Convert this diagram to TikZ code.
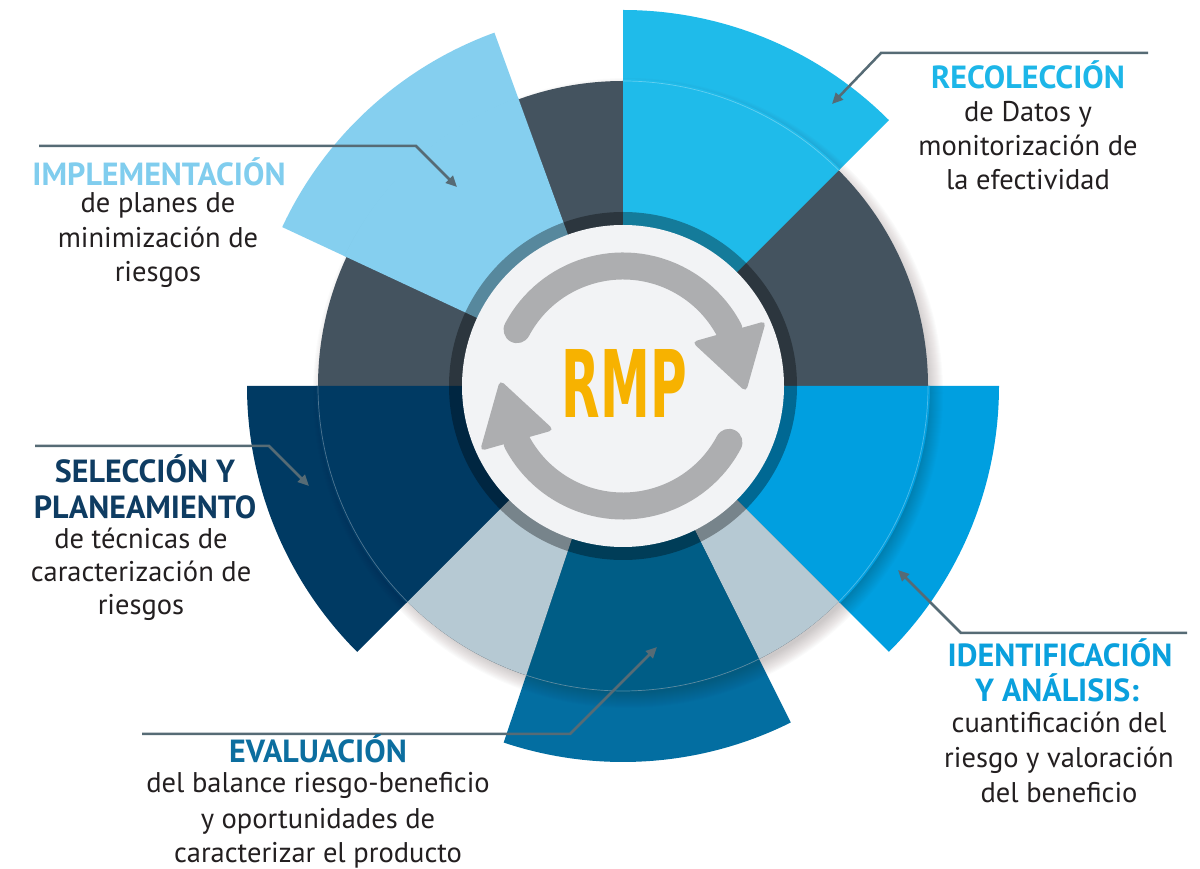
\documentclass[tikz,border=0pt]{standalone}
\usepackage{fontspec}
\usepackage{graphicx}
\setmainfont{PT Sans}
\newfontfamily\rmpfont{DejaVu Sans Condensed}
\usetikzlibrary{arrows.meta}

\definecolor{cyanA}{HTML}{1FBBEA}
\definecolor{blueB}{HTML}{009FE0}
\definecolor{bottomOut}{HTML}{036EA1}
\definecolor{bottomIn}{HTML}{005D86}
\definecolor{navyC}{HTML}{003A63}
\definecolor{skyL}{HTML}{85CFEF}
\definecolor{diskGray}{HTML}{44535F}
\definecolor{paleBlue}{HTML}{B6C9D3}
\definecolor{hub}{HTML}{F2F3F5}
\definecolor{arrowGray}{HTML}{ADAEB0}
\definecolor{rmpOrange}{HTML}{F7B200}
\definecolor{leader}{HTML}{566B75}
\definecolor{bodyText}{HTML}{231F20}
\definecolor{tRec}{HTML}{1DB6E8}
\definecolor{tImp}{HTML}{80CDEE}
\definecolor{tSel}{HTML}{0E3C62}
\definecolor{tEva}{HTML}{0C6E9F}
\definecolor{tIde}{HTML}{0AA0DD}
\definecolor{shadowC}{HTML}{3A2A2A}

% wedge: start angle, end angle, radius, fill colour
\newcommand\wedgeshape[4]{\fill[#4] (0,0) -- (#1:#3) arc[start angle=#1, end angle=#2, radius=#3] -- cycle;}

\tikzset{
  labtitle/.style={font=\fontsize{32}{32}\selectfont\bfseries, anchor=base, inner sep=0pt},
  labbody/.style={font=\fontsize{28.5}{28.5}\selectfont, text=bodyText, anchor=base, inner sep=0pt},
  leaderline/.style={draw=leader, line width=2.5pt, -{Triangle[length=11pt,width=10pt]}},
  rimline/.style={white, opacity=0.3, line width=0.7pt}
}

\begin{document}
\begin{tikzpicture}[x=1pt,y=1pt]
\useasboundingbox (0,0) rectangle (1200,868);
\fill[white] (0,0) rectangle (1200,868);

\begin{scope}[shift={(623,482)}]
  % outer blades
  \wedgeshape{45}{90}{376}{cyanA}
  \wedgeshape{-45}{0}{376}{blueB}
  \wedgeshape{-108.5}{-63.5}{376}{bottomOut}
  \wedgeshape{180}{225}{376}{navyC}
  \wedgeshape{110}{155}{376}{skyL}

  % soft shadow of the disk, falling down and to the right
  \foreach \k [evaluate=\k as \rr using 299+\k] in {1,...,16}
    \fill[shadowC, opacity=0.016] (5,-7) circle[radius=\rr];

  % main disk and its sectors (same-coloured blades overlap the rim slightly)
  \fill[diskGray] (0,0) circle[radius=305];
  \wedgeshape{45}{90}{307}{cyanA}
  \wedgeshape{-45}{0}{307}{blueB}
  \wedgeshape{-63.5}{-45}{305}{paleBlue}
  \wedgeshape{-108.5}{-63.5}{305}{bottomIn}
  \wedgeshape{225}{251.5}{305}{paleBlue}
  \wedgeshape{180}{225}{307}{navyC}
  \wedgeshape{110}{155}{307}{skyL}

  % thin rims on the blades
  \draw[rimline] (45:305) arc[start angle=45, end angle=90, radius=305];
  \draw[rimline] (-45:305) arc[start angle=-45, end angle=0, radius=305];
  \draw[rimline] (-108.5:305) arc[start angle=-108.5, end angle=-63.5, radius=305];
  \draw[rimline] (180:305) arc[start angle=180, end angle=225, radius=305];

  % dark ring and hub
  \fill[black, opacity=0.34] (0,0) circle[radius=174];
  \fill[hub] (0,0) circle[radius=161];

  % cycle arrows
  \draw[arrowGray, line width=27pt, line cap=round]
    (152:120) arc[start angle=152, end angle=28, radius=120];
  \fill[arrowGray, rounded corners=5pt] (69,44) -- (143,65) -- (123,-6) -- cycle;
  \draw[arrowGray, line width=27pt, line cap=round]
    (332:120) arc[start angle=332, end angle=208, radius=120];
  \fill[arrowGray, rounded corners=5pt] (-69,-44) -- (-143,-65) -- (-123,6) -- cycle;
\end{scope}

\node[inner sep=0pt, text=rmpOrange] (rmp) at (624.5,484)
  {\resizebox{125pt}{68pt}{\rmpfont\bfseries RMP}};

% leader lines
\coordinate (recA) at (1148,815); \coordinate (recB) at (881,815); \coordinate (recT) at (832,764);
\coordinate (impA) at (39,722);   \coordinate (impB) at (416,722); \coordinate (impT) at (457,681);
\coordinate (selA) at (35,422);   \coordinate (selB) at (269,422); \coordinate (selT) at (309,382);
\coordinate (evaA) at (142,134);  \coordinate (evaB) at (570,134); \coordinate (evaT) at (657,221);
\coordinate (ideA) at (1187,235); \coordinate (ideB) at (961,235); \coordinate (ideT) at (898,298);
\draw[leaderline] (recA) -- (recB) -- (recT);
\draw[leaderline] (impA) -- (impB) -- (impT);
\draw[leaderline] (selA) -- (selB) -- (selT);
\draw[leaderline] (evaA) -- (evaB) -- (evaT);
\draw[leaderline] (ideA) -- (ideB) -- (ideT);

% labels
\node[labtitle, text=tRec] (rec0) at (1028,779) {RECOLECCIÓN};
\node[labbody] (rec1) at (1028,746) {de Datos y};
\node[labbody] (rec2) at (1028,712) {monitorización de};
\node[labbody] (rec3) at (1028,678) {la efectividad};

\node[labtitle, text=tImp] (imp0) at (159,682) {IMPLEMENTACIÓN};
\node[labbody] (imp1) at (158,655) {de planes de};
\node[labbody] (imp2) at (158,620) {minimización de};
\node[labbody] (imp3) at (158,586) {riesgos};

\node[labtitle, text=tSel] (sel0) at (145,385) {SELECCIÓN Y};
\node[labtitle, text=tSel] (sel1) at (145,349) {PLANEAMIENTO};
\node[labbody] (sel2) at (141,319) {de técnicas de};
\node[labbody] (sel3) at (141,286) {caracterización de};
\node[labbody] (sel4) at (141,253) {riesgos};

\node[labtitle, text=tEva] (eva0) at (318,105) {EVALUACIÓN};
\node[labbody] (eva1) at (318,75) {del balance riesgo-beneficio};
\node[labbody] (eva2) at (318,40) {y oportunidades de};
\node[labbody] (eva3) at (318,6) {caracterizar el producto};

\node[labtitle, text=tIde] (ide0) at (1060,201) {IDENTIFICACIÓN};
\node[labtitle, text=tIde] (ide1) at (1057,166) {Y ANÁLISIS:};
\node[labbody] (ide2) at (1059,135) {cuantificación del};
\node[labbody] (ide3) at (1059,100) {riesgo y valoración};
\node[labbody] (ide4) at (1059,66) {del beneficio};
\end{tikzpicture}
\end{document}
